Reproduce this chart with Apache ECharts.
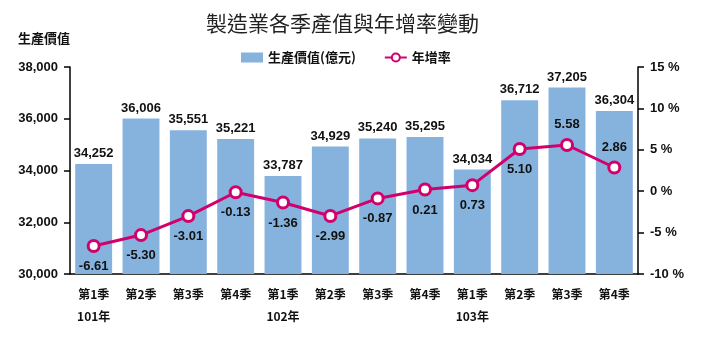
<!DOCTYPE html>
<html>
<head>
<meta charset="utf-8">
<script src="https://cdn.jsdelivr.net/npm/echarts@6/dist/echarts.min.js"></script>
<style>html,body{margin:0;padding:0;background:#fff;}#c{width:710px;height:344px;}</style>
</head>
<body>
<div id="c"></div>
<script>
const quarters = ['第1季','第2季','第3季','第4季','第1季','第2季','第3季','第4季','第1季','第2季','第3季','第4季'];
const years = ['101年','','','','102年','','','','103年','','',''];
const production = [34252, 36006, 35551, 35221, 33787, 34929, 35240, 35295, 34034, 36712, 37205, 36304];
const growth = [-6.61, -5.30, -3.01, -0.13, -1.36, -2.99, -0.87, 0.21, 0.73, 5.10, 5.58, 2.86];
const leftTicks = [30000, 38000, 2000];
const rightTicks = [-10, 15, 5];

const labelsAbove = new Set([10, 11]);
const numFont = '"Liberation Sans", Arial, sans-serif';
const cjkFont = '"Noto Sans CJK TC", "Liberation Sans", sans-serif';

const chart = echarts.init(document.getElementById('c'), null, {renderer: 'canvas'});
chart.setOption({
  animation: false,
  backgroundColor: '#fff',
  title: {
    text: '製造業各季產值與年增率變動',
    left: 201, top: 8,
    textStyle: {fontFamily: cjkFont, fontSize: 21, fontWeight: 'normal', color: '#222'}
  },
  legend: {
    top: 46, left: 236,
    itemGap: 28,
    textStyle: {fontFamily: cjkFont, fontSize: 13, fontWeight: 'bold', color: '#111'},
    data: [
      {name: '生產價值(億元)', icon: 'rect', itemStyle: {color: '#86b3de'}},
      {name: '年增率'}
    ],
    itemWidth: 22, itemHeight: 10
  },
  grid: {left: 70, right: 72, top: 67, bottom: 70},
  xAxis: {
    type: 'category',
    data: quarters,
    axisLine: {onZero: false, lineStyle: {color: '#000', width: 1.5}},
    axisTick: {show: false},
    axisLabel: {
      interval: 0, margin: 9,
      fontFamily: cjkFont, fontSize: 12, fontWeight: 'bold', color: '#111', lineHeight: 22,
      formatter: (v, i) => years[i] ? v + '\n' + years[i] : v
    }
  },
  yAxis: [
    {
      type: 'value', min: leftTicks[0], max: leftTicks[1], interval: leftTicks[2],
      name: '生產價值', nameLocation: 'end', nameGap: 22,
      nameTextStyle: {fontFamily: cjkFont, fontSize: 13, fontWeight: 'bold', color: '#111', align: 'right'},
      splitLine: {show: false},
      axisLine: {show: true, onZero: false, lineStyle: {color: '#000', width: 1.5}},
      axisTick: {show: true, length: 6, lineStyle: {color: '#000', width: 1.5}},
      axisLabel: {
        margin: 12, fontFamily: numFont, fontSize: 13, fontWeight: 'bold', color: '#111',
        formatter: v => v.toLocaleString('en-US')
      }
    },
    {
      type: 'value', min: rightTicks[0], max: rightTicks[1], interval: rightTicks[2],
      splitLine: {show: false},
      axisLine: {show: true, onZero: false, lineStyle: {color: '#000', width: 1.5}},
      axisTick: {show: true, length: 6, lineStyle: {color: '#000', width: 1.5}},
      axisLabel: {
        margin: 12, fontFamily: numFont, fontSize: 13, fontWeight: 'bold', color: '#111',
        formatter: v => v + ' %'
      }
    }
  ],
  series: [
    {
      name: '生產價值(億元)',
      type: 'bar',
      data: production,
      barCategoryGap: '22%',
      itemStyle: {color: '#86b3de'},
      label: {
        show: true, position: 'top', distance: 4,
        fontFamily: numFont, fontSize: 13, fontWeight: 'bold', color: '#111',
        formatter: p => p.value.toLocaleString('en-US')
      }
    },
    {
      name: '年增率',
      type: 'line',
      yAxisIndex: 1,
      data: growth.map((v, i) => ({
        value: v,
        label: {position: labelsAbove.has(i) ? 'top' : 'bottom'}
      })),
      symbol: 'circle', symbolSize: 11,
      lineStyle: {color: '#d1006c', width: 3},
      itemStyle: {color: '#fff', borderColor: '#d1006c', borderWidth: 3},
      label: {
        show: true, distance: 7,
        fontFamily: numFont, fontSize: 13, fontWeight: 'bold', color: '#111',
        formatter: p => p.value.toFixed(2)
      },
      z: 5
    }
  ]
});
</script>
</body>
</html>
